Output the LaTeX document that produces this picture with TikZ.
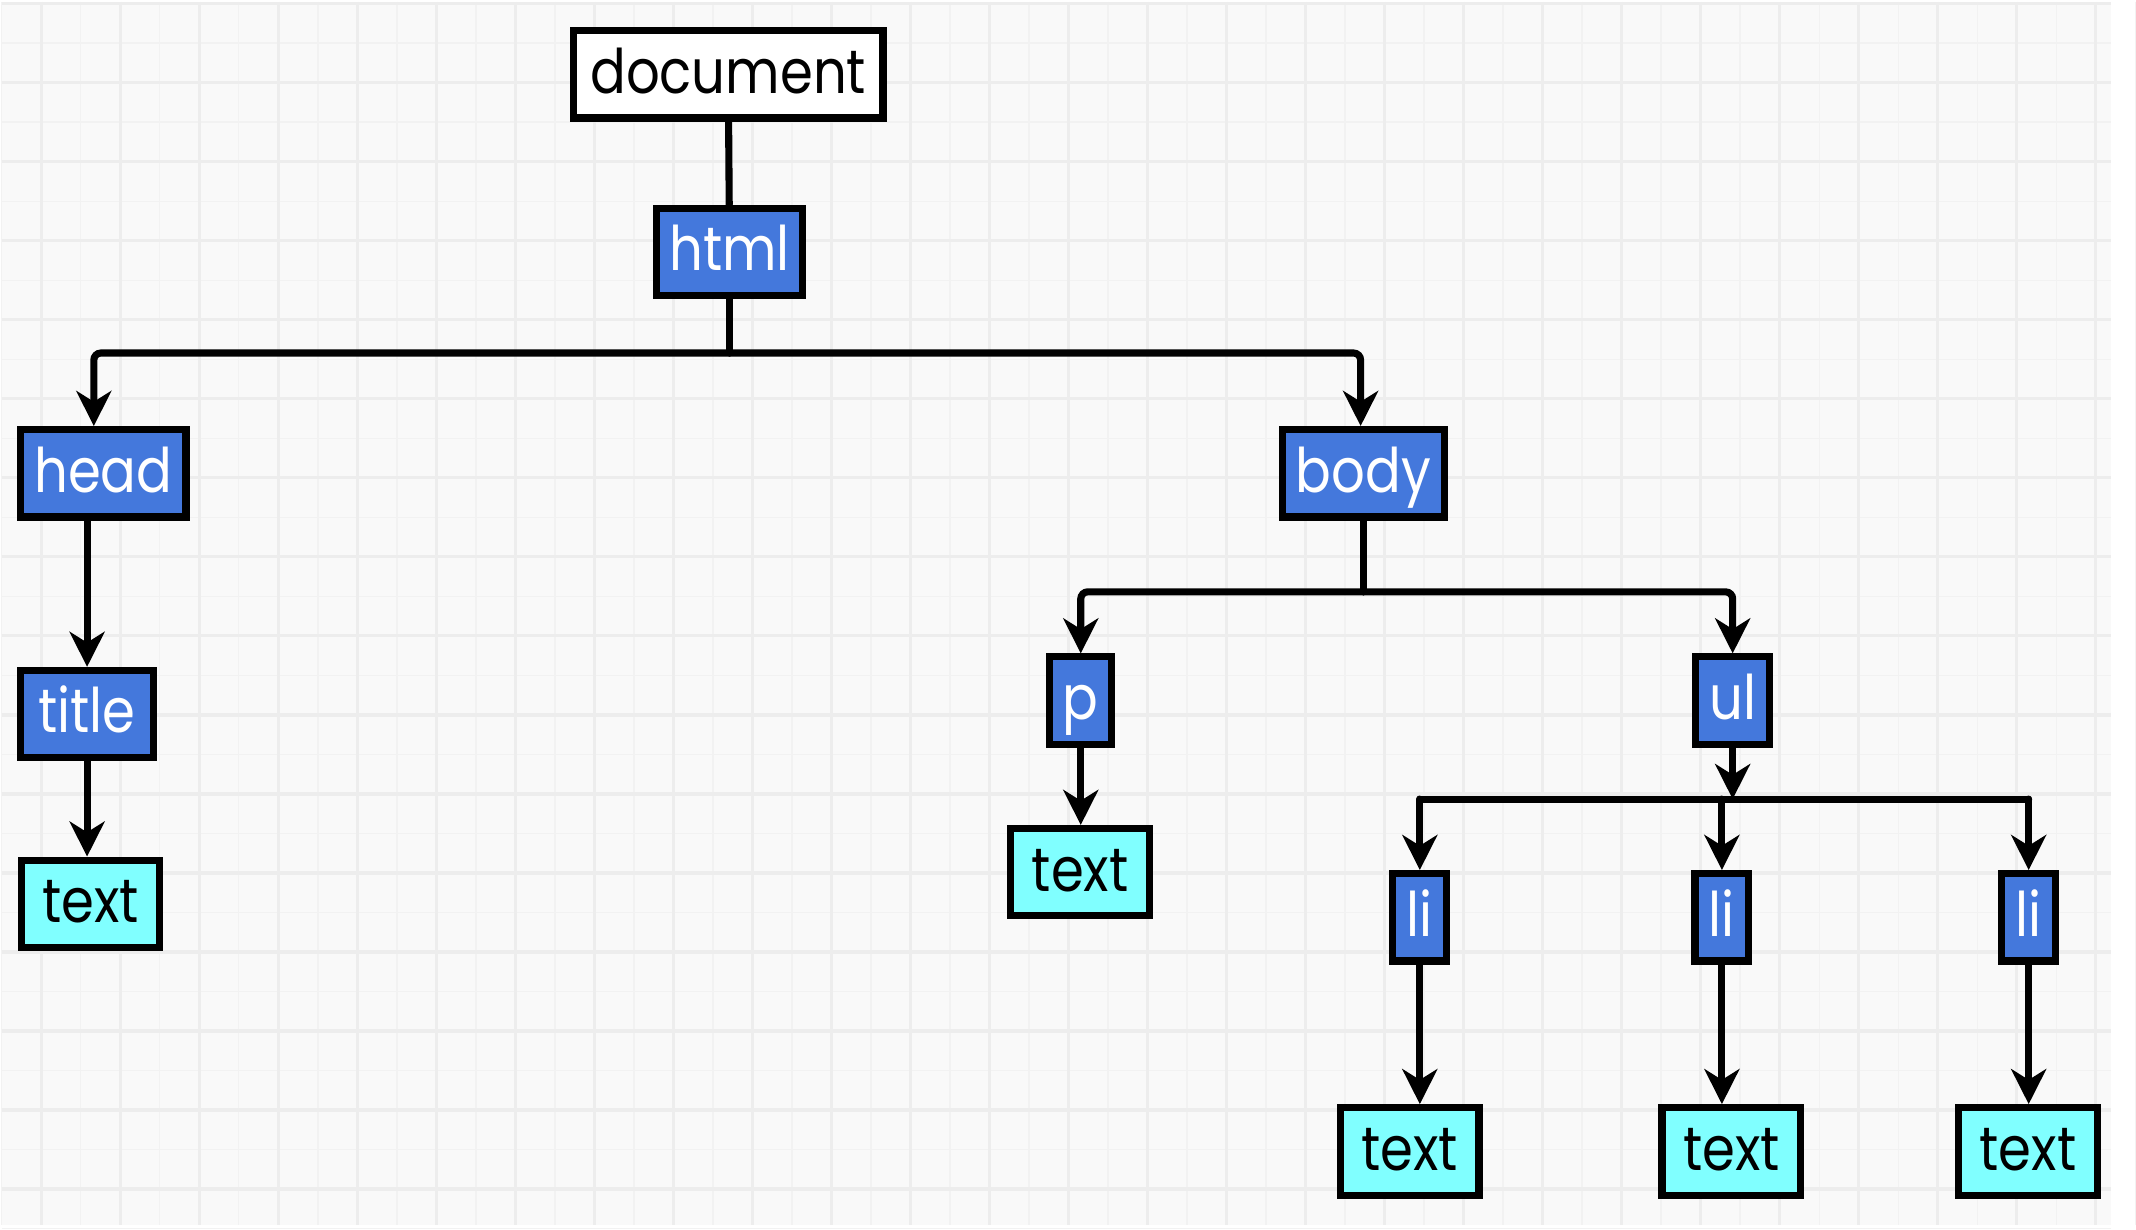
\documentclass[tikz,border=0pt]{standalone}
\usepackage{fontspec}
\setmainfont{Poppins}[FakeStretch=0.86]
\usetikzlibrary{arrows.meta,positioning}
\definecolor{tagblue}{HTML}{4478DC}
\definecolor{textcyan}{HTML}{80FFFF}
\definecolor{paper}{HTML}{F9F9F9}
\definecolor{gridmajor}{HTML}{EDEDED}
\definecolor{gridminor}{HTML}{F2F2F2}
\tikzset{
  box/.style={draw=black, line width=1.5pt, minimum height=0.65cm, inner xsep=0.5mm, inner ysep=0pt,
    font=\fontsize{13}{15}\selectfont, text height=0.36cm, text depth=0.08cm},
  tag/.style={box, fill=tagblue, text=white},
  leaf/.style={box, fill=textcyan, text=black, minimum width=1.03cm},
  root/.style={box, fill=white},
  link/.style={line width=1.5pt, line cap=round, rounded corners=1.5pt},
  arrow/.style={link, -{Stealth[length=2.6mm, width=2.6mm, inset=0.8mm]}}
}

\begin{document}
\begin{tikzpicture}
				% paper and grid
				\fill[paper] (0,0) rectangle (15.68,-9.09);
				\foreach \i in {-1,...,26}
					\draw[gridminor, line width=0.3pt] ({0.294+0.5873*(\i+0.5)},0) -- ++(0,-9.09);
				\foreach \j in {0,...,15}
					\draw[gridminor, line width=0.3pt] (0,{-0.015-0.5873*(\j+0.5)}) -- ++(15.68,0);
				\foreach \i in {0,...,26}
					\draw[gridmajor, line width=0.7pt] ({0.294+0.5873*\i},0) -- ++(0,-9.09);
				\foreach \j in {0,...,15}
					\draw[gridmajor, line width=0.7pt] (0,{-0.015-0.5873*\j}) -- ++(15.68,0);
				
				\node[root, minimum width=2.30cm] (document) at (5.40,-0.54) {document};
				\node[tag, minimum width=1.08cm] (html) at (5.41,-1.86) {html};
				\node[tag, minimum width=1.23cm] (head) at (0.755,-3.505) {head};
				\node[tag, minimum width=1.20cm] (body) at (10.12,-3.505) {body};
				\node[tag, minimum width=0.99cm] (title) at (0.635,-5.295) {title};
				\node[leaf] (headtext) at (0.66,-6.705) {text};
				\node[tag, minimum width=0.46cm] (p) at (8.02,-5.195) {p};
				\node[tag, minimum width=0.55cm] (ul) at (12.865,-5.195) {ul};
				\node[leaf] (ptext) at (8.015,-6.47) {text};
				
				\draw[link] (document) -- (html);
				\draw[link] (html.south) -- ++(0,-0.40) coordinate (htmlbus);
				\draw[arrow] (htmlbus) -| ([xshift=-0.07cm]head.north);
				\draw[arrow] (htmlbus) -| ([xshift=-0.02cm]body.north);
				\draw[arrow] (title.north |- head.south) -- (title.north);
				\draw[arrow] (title.south) -- (title.south |- headtext.north);
				
				\draw[link] (body.south) -- ++(0,-0.53) coordinate (bodybus);
				\draw[arrow] (bodybus) -| (p.north);
				\draw[arrow] (bodybus) -| (ul.north);
				\draw[arrow] (p.south) -- (p.south |- ptext.north);
				\draw[arrow] (ul.south) -- ++(0,-0.38) coordinate (ulbus);
				
				\foreach \n/\x/\tx in {1/10.54/10.465, 2/12.785/12.855, 3/15.065/15.06} {
					\node[tag, minimum width=0.40cm] (li\n) at (\x,-6.805) {li};
					\node[leaf] (litext\n) at (\tx,-8.545) {text};
					\draw[arrow] (ulbus -| li\n.north) -- (li\n.north);
					\draw[arrow] (li\n.south) -- (li\n.south |- litext\n.north);
				}
				\draw[link] (ulbus -| li1) -- (ulbus -| li3);
			\end{tikzpicture}
\end{document}
